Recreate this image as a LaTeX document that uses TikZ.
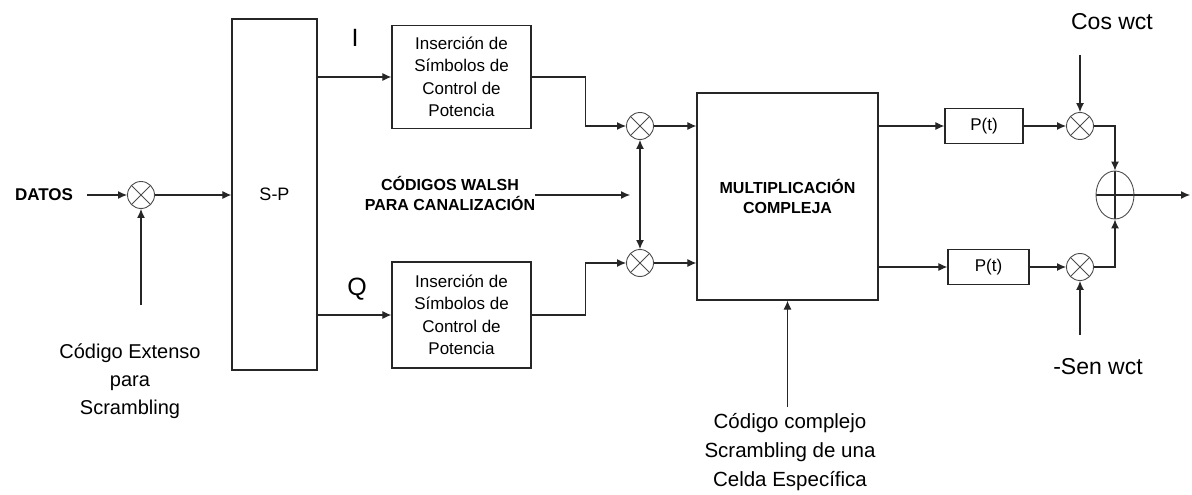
\documentclass[tikz,border=0pt]{standalone}
\usepackage{fontspec}
\setmainfont{Liberation Sans}
\usetikzlibrary{arrows.meta,positioning,calc,shapes.geometric}
\tikzset{
  blk/.style={draw=black!85, line width=1.2pt, align=center, inner sep=2pt,
              font=\fontsize{17}{22.5}\selectfont},
  mixer/.style={circle, draw=black!70, line width=0.9pt, minimum size=27pt, inner sep=0pt,
              path picture={\draw[black!70, line width=0.9pt]
                (path picture bounding box.north west) -- (path picture bounding box.south east)
                (path picture bounding box.north east) -- (path picture bounding box.south west);}},
  adder/.style={ellipse, draw=black!70, line width=0.9pt, minimum width=38pt, minimum height=48pt, inner sep=0pt,
              path picture={\draw[black!85, line width=1.1pt]
                (path picture bounding box.west) -- (path picture bounding box.east)
                (path picture bounding box.north) -- (path picture bounding box.south);}},
  lbl/.style={align=center, inner sep=0pt, font=\fontsize{20.5}{29}\selectfont},
  caps/.style={align=center, inner sep=0pt, font=\bfseries\fontsize{16}{20}\selectfont},
  arr/.style={-{Latex[length=9pt,width=8pt]}, line width=1.1pt, draw=black!85},
  biarr/.style={{Latex[length=9pt,width=8pt]}-{Latex[length=9pt,width=8pt]}, line width=1.1pt, draw=black!85}
}
\begin{document}
\begin{tikzpicture}[x=1pt,y=-1pt]
\useasboundingbox (0,0) rectangle (1192,495);
% input side
\node[caps, font=\bfseries\fontsize{17}{20}\selectfont] (datos) at (44,195) {DATOS};
\node[mixer] (mix1) at (141,195) {};
\coordinate (extsrc) at (141,305);
\node[lbl, font=\fontsize{20}{28}\selectfont] (ext) at (130,381) {Código Extenso\\para\\Scrambling};
\node[blk, minimum width=85pt, minimum height=351pt, font=\fontsize{18}{22}\selectfont] (sp) at (274.5,194.5) {S-P};
\draw[arr] (datos.east) ++(14,0) -- (mix1.west);
\draw[arr] (extsrc) -- (mix1.south);
\draw[arr] (mix1.east) -- (sp.west |- mix1);
% I / Q branches
\node[blk, minimum width=139pt, minimum height=103pt] (ins1) at (461.5,77) {Inserción de\\Símbolos de\\Control de\\Potencia};
\node[blk, minimum width=139pt, minimum height=106pt] (ins2) at (461.5,315) {Inserción de\\Símbolos de\\Control de\\Potencia};
\node[inner sep=0pt, font=\fontsize{25}{25}\selectfont] (ilbl) at (355,38) {I};
\node[inner sep=0pt, font=\fontsize{25}{25}\selectfont] (qlbl) at (357,289) {Q};
\draw[arr] (sp.east |- ins1.west) -- (ins1.west);
\draw[arr] (sp.east |- ins2.west) -- (ins2.west);
\node[mixer] (mix2) at (640,126) {};
\node[mixer] (mix3) at (640,263) {};
\draw[arr] (ins1.east) -- ++(54,0) |- (mix2.west);
\draw[arr] (ins2.east) -- ++(54,0) |- (mix3.west);
\node[caps] (walsh) at (450,193) {CÓDIGOS WALSH\\PARA CANALIZACIÓN};
\coordinate (walshend) at (630,195);
\draw[arr] (walsh.east |- walshend) -- (walshend);
\draw[biarr] (mix2.south) -- (mix3.north);
% complex multiplication
\node[blk, minimum width=181pt, minimum height=207pt, font=\bfseries\fontsize{16}{20}\selectfont] (mc) at (787.5,196.5) {MULTIPLICACIÓN\\COMPLEJA};
\draw[arr] (mix2.east) -- (mc.west |- mix2);
\draw[arr] (mix3.east) -- (mc.west |- mix3);
\node[lbl] (cs) at (790,452) {Código complejo\\Scrambling de una\\Celda Específica};
\draw[arr] (mc.south |- cs.north) ++(0,-6) -- (mc.south);
% carrier modulation
\node[blk, minimum width=78pt, minimum height=35pt] (p1) at (984,126) {P(t)};
\node[blk, minimum width=81pt, minimum height=35pt] (p2) at (988.5,267) {P(t)};
\draw[arr] (mc.east |- p1) -- (p1.west);
\draw[arr] (mc.east |- p2) -- (p2.west);
\node[mixer] (mix4) at (1080,126) {};
\node[mixer] (mix5) at (1080,267) {};
\draw[arr] (p1.east) -- (mix4.west);
\draw[arr] (p2.east) -- (mix5.west);
\node[lbl, font=\fontsize{23}{23}\selectfont] (cos) at (1112,22) {Cos wct};
\node[lbl, font=\fontsize{23}{23}\selectfont] (sen) at (1098,367) {-Sen wct};
\coordinate (cossrc) at (1080,55);
\coordinate (sensrc) at (1080,335);
\draw[arr] (cossrc) -- (mix4.north);
\draw[arr] (sensrc) -- (mix5.south);
\node[adder] (sum) at (1115,195) {};
\coordinate (out) at (1190,195);
\draw[arr] (mix4.east) -| (sum.north);
\draw[arr] (mix5.east) -| (sum.south);
\draw[arr] (sum.east) -- (out);
\end{tikzpicture}
\end{document}
